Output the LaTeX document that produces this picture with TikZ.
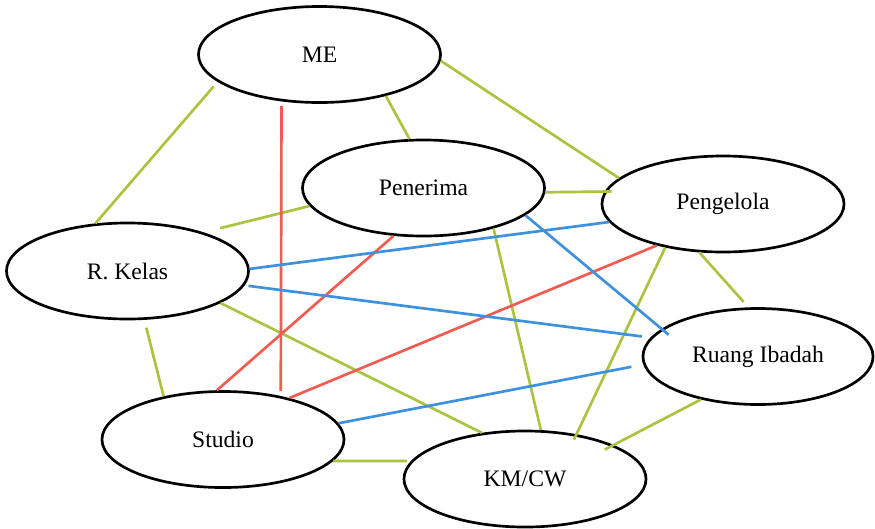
\documentclass[tikz,border=0pt]{standalone}
\usepackage{fontspec}
\setmainfont{Liberation Serif}
\usetikzlibrary{shapes.geometric}
\definecolor{lgreen}{RGB}{170,196,64}
\definecolor{lred}{RGB}{240,92,82}
\definecolor{lblue}{RGB}{62,145,222}
\tikzset{
  room/.style={ellipse, draw=black, line width=1.9pt, minimum width=6.05cm, minimum height=2.4cm, inner sep=0pt, font=\fontsize{16.8}{20}\selectfont},
}

\begin{document}
\begin{tikzpicture}[
    x=0.025cm, y=-0.025cm,
    greenedge/.style={lgreen, line width=1.9pt},
    rededge/.style={lred, line width=1.9pt},
    blueedge/.style={lblue, line width=1.9pt},
]
\useasboundingbox (0,0) rectangle (875,528);

% rooms
\node[room] (ME) at (319.5,54.5) {ME};
\node[room] (Pen) at (423.5,188) {Penerima};
\node[room] (Pgl) at (723,204) {Pengelola};
\node[room] (Kelas) at (127.5,271) {R. Kelas};
\node[room, minimum width=5.75cm] (Ibadah) at (758,356.5) {Ruang Ibadah};
\node[room] (Studio) at (223,439.5) {Studio};
\node[room] (KMCW) at (525,479) {KM/CW};

% green links
\foreach \a/\b in {ME.-32/Pen.106, ME.-3.5/Pgl.166, Pen.-30/KMCW.72, Kelas.-19/KMCW.133} {
  \draw[greenedge] (\a) -- (\b);
}
\draw[greenedge, shorten <=0.15cm] (ME.195.3) -- (Kelas.124);
\draw[greenedge, shorten >=0.43cm] (Pen.189.2) -- (Kelas.27.3);
\draw[greenedge, shorten >=-0.175cm] (Pen.-2) -- (Pgl.174);
\draw[greenedge, shorten >=-0.15cm] (Pgl.217) -- (KMCW.41);
\draw[greenedge, shorten >=0.18cm] (Pgl.244) -- (Ibadah.101);
\draw[greenedge, shorten <=0.2cm] (Kelas.-71) -- (Studio.144);
\draw[greenedge, shorten >=0.1cm] (Studio.-11) -- (KMCW.171);
\draw[greenedge, shorten >=-0.25cm] (Ibadah.217) -- (KMCW.21);

% red links
\draw[rededge, shorten <=0.12cm, shorten >=0.12cm] (ME.231) -- (Studio.37);
\draw[rededge] (Pen.238) -- (Studio.97.7);
\draw[rededge] (Pgl.212) -- (Studio.32.4);

% blue links
\draw[blueedge] (Kelas.1.4) -- (Pgl.189.5);
\draw[blueedge, shorten <=0.1cm, shorten >=0.22cm] (Kelas.-7.6) -- (Ibadah.170.9);
\draw[blueedge, shorten >=-0.23cm] (Pen.-15.9) -- (Ibadah.164.7);
\draw[blueedge, shorten >=0.3cm] (Studio.8.7) -- (Ibadah.184.2);

\end{tikzpicture}
\end{document}
